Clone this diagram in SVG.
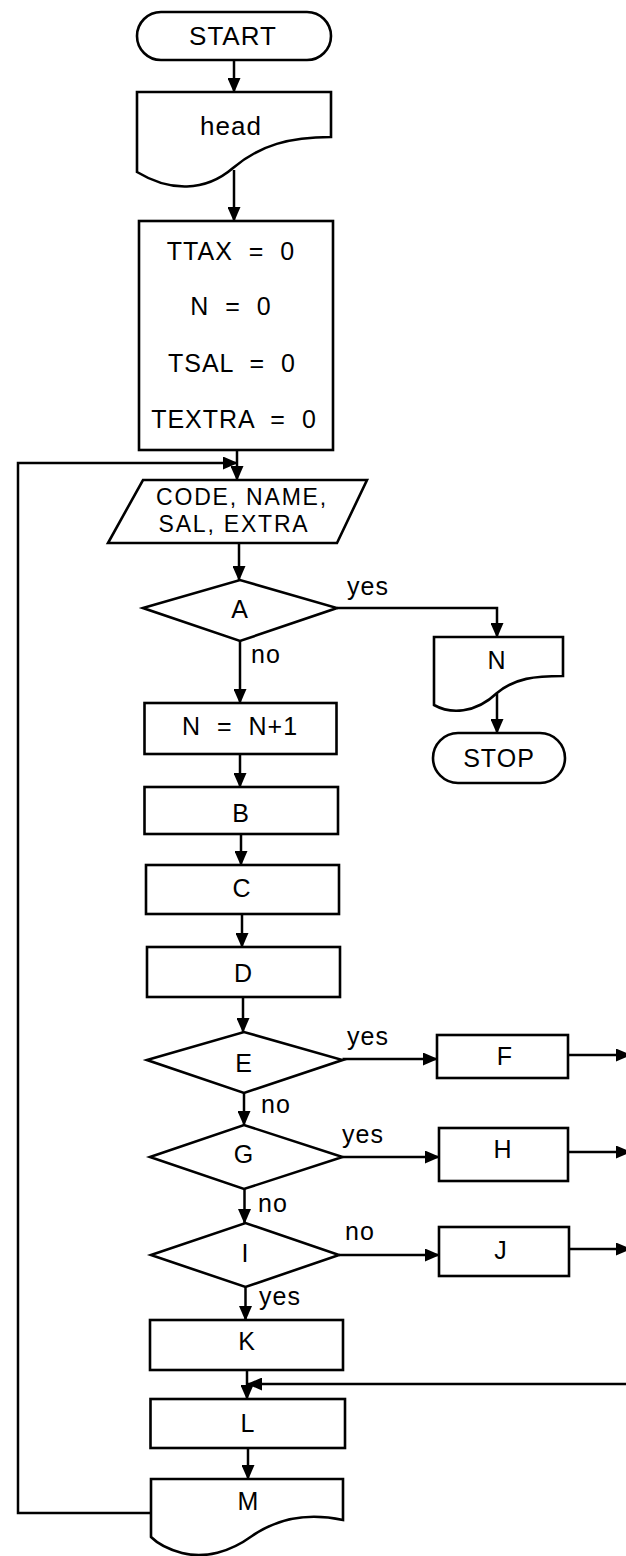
<svg xmlns="http://www.w3.org/2000/svg" width="626" height="1556" viewBox="0 0 626 1556">
  <style>
    .shape { fill: #fff; stroke: #000; stroke-width: 2.6; stroke-linejoin: miter; }
    .wire { fill: none; stroke: #000; stroke-width: 2.5; }
    .arrow { marker-end: url(#ah); }
    text { font-family: "Liberation Sans", Arial, Helvetica, sans-serif; font-size: 25px; letter-spacing: 1px; fill: #000; text-anchor: middle; }
    .big { font-size: 26px; }
    .wide { word-spacing: 8px; }
    .tight { font-size: 23px; letter-spacing: 1.8px; }
    .lbl { text-anchor: start; }
  </style>
  <defs>
    <marker id="ah" viewBox="0 0 15 13" markerWidth="15" markerHeight="13" refX="14" refY="6.5" orient="auto" markerUnits="userSpaceOnUse">
      <path d="M0,0 L15,6.5 L0,13 z" fill="#000"/>
    </marker>
  </defs>
  <rect width="626" height="1556" fill="#fff"/>

  <!-- connectors -->
  <g id="connectors">
    <path class="wire arrow" d="M234,60 V92"/>
    <path class="wire arrow" d="M234,170 V221"/>
    <path class="wire arrow" d="M237,450 V480"/>
    <path class="wire arrow" d="M151,1513 H18 V463 H237"/>
    <path class="wire arrow" d="M239,543 V580"/>
    <path class="wire arrow" d="M240,641 V703"/>
    <path class="wire arrow" d="M337,608 H497 V637"/>
    <path class="wire arrow" d="M497,694 V733"/>
    <path class="wire arrow" d="M240,754 V787"/>
    <path class="wire arrow" d="M241,834 V865"/>
    <path class="wire arrow" d="M242,914 V947"/>
    <path class="wire arrow" d="M243,997 V1032"/>
    <path class="wire arrow" d="M342.5,1059 H437"/>
    <path class="wire arrow" d="M568,1055 H630"/>
    <path class="wire arrow" d="M244,1093 V1125"/>
    <path class="wire arrow" d="M342.5,1157 H439"/>
    <path class="wire arrow" d="M568,1152 H630"/>
    <path class="wire arrow" d="M244.5,1189 V1223"/>
    <path class="wire arrow" d="M339,1255 H439"/>
    <path class="wire arrow" d="M569,1249 H630"/>
    <path class="wire arrow" d="M245.5,1287 V1320"/>
    <path class="wire arrow" d="M247,1370 V1399"/>
    <path class="wire arrow" d="M630,1384 H248"/>
    <path class="wire arrow" d="M248,1448 V1479"/>
  </g>

  <!-- decision labels -->
  <g id="labels">
    <text class="lbl" x="347" y="595">yes</text>
    <text class="lbl" x="251" y="663">no</text>
    <text class="lbl" x="347" y="1045">yes</text>
    <text class="lbl" x="261" y="1113">no</text>
    <text class="lbl" x="342" y="1143">yes</text>
    <text class="lbl" x="258" y="1212">no</text>
    <text class="lbl" x="345" y="1240">no</text>
    <text class="lbl" x="259" y="1305">yes</text>
  </g>

  <g id="start">
    <rect class="shape" x="137" y="12" width="194" height="48" rx="24" ry="24"/>
    <text class="big" x="233" y="45">START</text>
  </g>

  <g id="head">
    <path class="shape" d="M137,92 H331 V137 C290,137 260,145 233,168 C205,192 170,192 137,172 Z"/>
    <text class="big" x="231" y="135">head</text>
  </g>

  <g id="init">
    <rect class="shape" x="139" y="221" width="194" height="229"/>
    <text class="wide" x="231" y="260">TTAX = 0</text>
    <text class="wide" x="231" y="315">N = 0</text>
    <text class="wide" x="232" y="372">TSAL = 0</text>
    <text class="wide" x="234" y="428">TEXTRA = 0</text>
  </g>

  <g id="read">
    <polygon class="shape" points="143,480 367,480 337,543 108,543"/>
    <text class="tight" x="242" y="505">CODE, NAME,</text>
    <text class="tight" x="234" y="532">SAL, EXTRA</text>
  </g>

  <g id="decision-a">
    <polygon class="shape" points="143,608 240,580 337,608 240,641"/>
    <text x="240" y="618">A</text>
  </g>

  <g id="print-n">
    <path class="shape" d="M434,637 H563 V676 C535,676 515,678 497,693 C475,714 450,714 434,705 Z"/>
    <text x="497" y="669">N</text>
  </g>

  <g id="stop">
    <rect class="shape" x="433" y="733" width="132" height="50" rx="25" ry="25"/>
    <text x="499" y="767">STOP</text>
  </g>

  <g id="count">
    <rect class="shape" x="144.5" y="703" width="192" height="51"/>
    <text class="wide" x="240" y="735" letter-spacing="2">N = N+1</text>
  </g>

  <g id="b">
    <rect class="shape" x="144.5" y="787" width="193.5" height="47"/>
    <text x="241" y="822">B</text>
  </g>

  <g id="c">
    <rect class="shape" x="146" y="865" width="193" height="49"/>
    <text x="242" y="897">C</text>
  </g>

  <g id="d">
    <rect class="shape" x="147" y="947" width="193" height="50"/>
    <text x="243.5" y="982">D</text>
  </g>

  <g id="decision-e">
    <polygon class="shape" points="147,1060 244,1032 342.5,1060 244,1093"/>
    <text x="244" y="1072">E</text>
  </g>

  <g id="f">
    <rect class="shape" x="437" y="1035" width="131" height="43"/>
    <text x="505" y="1065">F</text>
  </g>

  <g id="decision-g">
    <polygon class="shape" points="150,1157 244,1125 342.5,1157 244,1189"/>
    <text x="244" y="1163">G</text>
  </g>

  <g id="h">
    <rect class="shape" x="439" y="1128" width="129" height="53"/>
    <text x="503" y="1158">H</text>
  </g>

  <g id="decision-i">
    <polygon class="shape" points="151,1255 245.5,1223 339,1255 245.5,1287"/>
    <text x="245.5" y="1262">I</text>
  </g>

  <g id="j">
    <rect class="shape" x="439" y="1227" width="130" height="49"/>
    <text x="501" y="1259">J</text>
  </g>

  <g id="k">
    <rect class="shape" x="150" y="1320" width="193" height="50"/>
    <text x="247" y="1350">K</text>
  </g>

  <g id="l">
    <rect class="shape" x="150.5" y="1399" width="194.5" height="49"/>
    <text x="248" y="1432">L</text>
  </g>

  <g id="m">
    <path class="shape" d="M151,1479 H343 V1520 C305,1512 275,1520 252,1536 C230,1552 205,1559 182,1553 C167,1549 157,1543 151,1537 Z"/>
    <text x="248.5" y="1510">M</text>
  </g>
</svg>
